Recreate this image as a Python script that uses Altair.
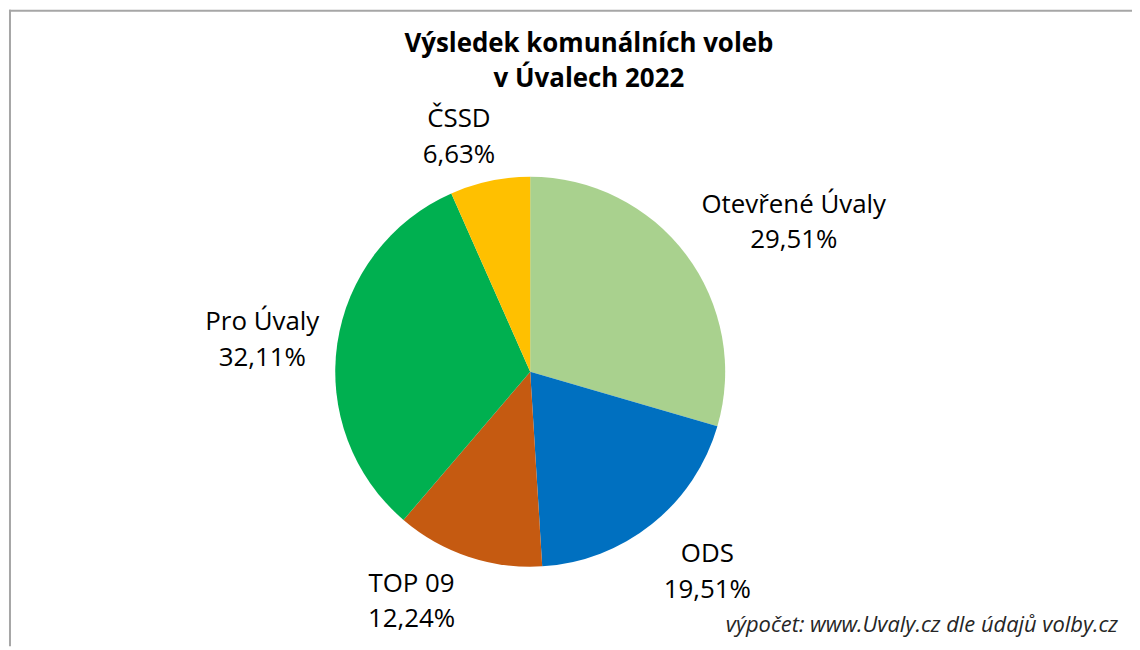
import altair as alt
import pandas as pd

# ---- data ----
parties = ["Otevřené Úvaly", "ODS", "TOP 09", "Pro Úvaly", "ČSSD"]
shares = [29.51, 19.51, 12.24, 32.11, 6.63]
colors = ["#A9D18E", "#0070C0", "#C55A11", "#00B050", "#FFC000"]
title_lines = ["Výsledek komunálních voleb", "v Úvalech 2022"]
source_note = "výpočet: www.Uvaly.cz dle údajů volby.cz"

# ---- style / layout ----
W, H = 1130, 640
CX, CY = 525, 364
PIE_R = 196
LABEL_R = 250
FONT = "Open Sans"
label_offsets = {  # dx, dy nudges of each outside label (Excel-like placement)
    "Otevřené Úvaly": (65, -10),
    "ODS": (22, -4),
    "TOP 09": (-40, -16),
    "Pro Úvaly": (-22, -6),
    "ČSSD": (-20, -1),
}

def fmt(v):
    return f"{v:.2f}".replace(".", ",") + "%"

df = pd.DataFrame({
    "order": list(range(len(parties))),
    "party": parties,
    "share": shares,
    "label": [p + "\n" + fmt(s) for p, s in zip(parties, shares)],
})
total = float(sum(shares))
theta_scale = alt.Scale(domain=[0, total])
color_scale = alt.Scale(domain=parties, range=colors)

base = alt.Chart(df).transform_window(
    cum="sum(share)", sort=[alt.SortField("order")], frame=[None, 0]
).transform_calculate(
    start="datum.cum - datum.share",
    mid="datum.cum - datum.share / 2",
)

pie = base.mark_arc(radius=PIE_R).encode(
    theta=alt.Theta("start:Q", scale=theta_scale),
    theta2="cum:Q",
    color=alt.Color("party:N", scale=color_scale, legend=None),
    x=alt.value(CX),
    y=alt.value(CY),
)

label_layers = []
for p in parties:
    dx, dy = label_offsets[p]
    label_layers.append(
        base.transform_filter(alt.datum.party == p).mark_text(
            radius=LABEL_R, dx=dx, dy=dy, align="center", baseline="alphabetic",
            lineBreak="\n", lineHeight=36, fontSize=26, font=FONT, color="#000000",
        ).encode(
            theta=alt.Theta("mid:Q", scale=theta_scale),
            text="label:N",
            x=alt.value(CX),
            y=alt.value(CY),
        )
    )

one = alt.InlineData(values=[{"k": 0}])

title = alt.Chart(one).mark_text(
    text=title_lines, align="center", baseline="alphabetic", lineHeight=35,
    fontSize=26, fontWeight="bold", font=FONT, color="#000000",
).encode(x=alt.value(584), y=alt.value(43))

note = alt.Chart(one).mark_text(
    text=source_note, align="right", baseline="alphabetic", fontSize=22,
    fontStyle="italic", font=FONT, color="#262626",
).encode(x=alt.value(1116), y=alt.value(626))

border_left = alt.Chart(one).mark_rule(color="#A6A6A6", strokeWidth=2).encode(
    x=alt.value(2), y=alt.value(0), y2=alt.value(H)
)
border_top = alt.Chart(one).mark_rule(color="#A6A6A6", strokeWidth=2).encode(
    x=alt.value(1), x2=alt.value(W), y=alt.value(1)
)

chart = alt.layer(
    pie, *label_layers, title, note, border_left, border_top
).properties(
    width=W, height=H, padding=0, autosize=alt.AutoSizeParams(type="none"),
    background="white",
).configure_view(stroke=None)

chart.save("out.html", embed_options={"renderer": "svg", "actions": False})
